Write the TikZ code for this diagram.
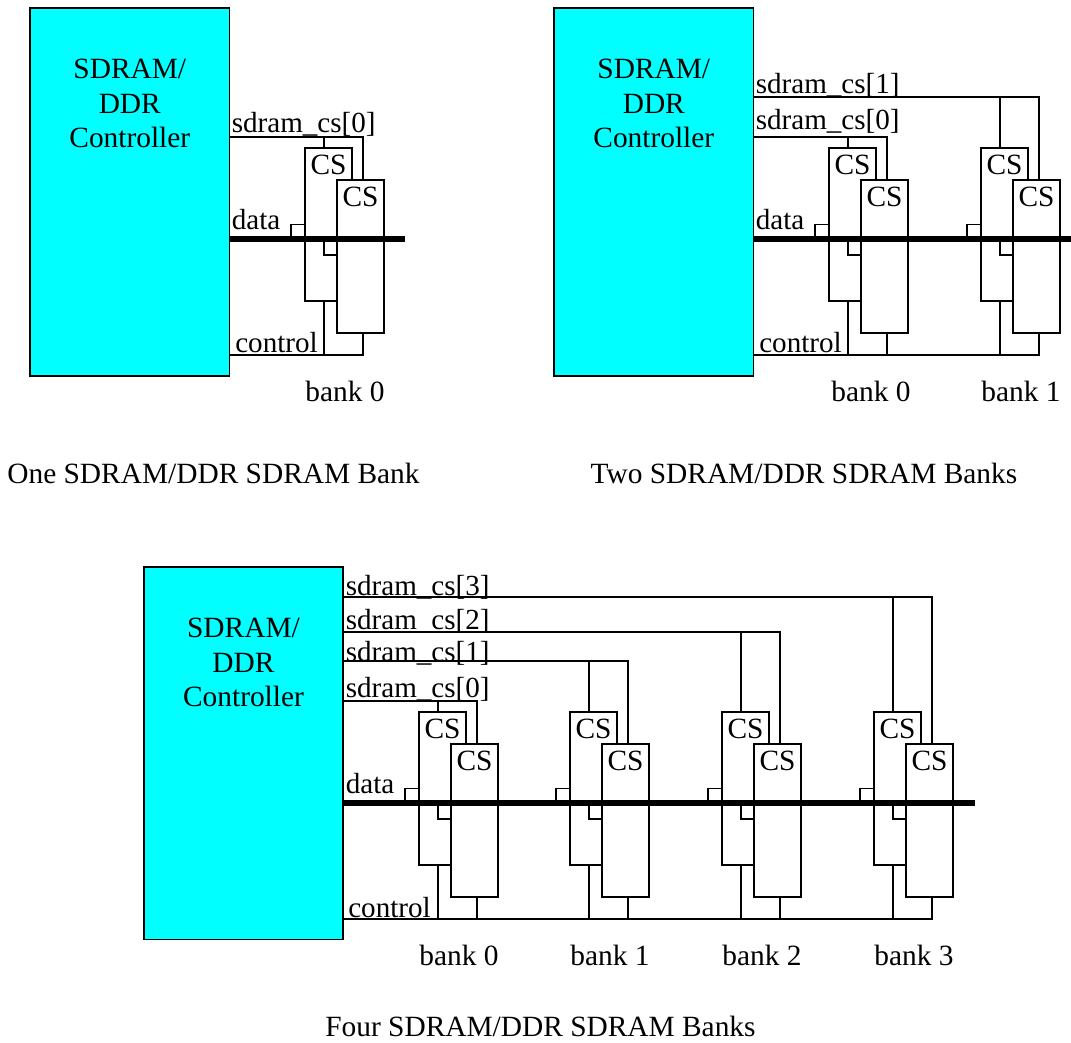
\documentclass[tikz,border=0pt]{standalone}
\usepackage{fontspec}
\usepackage{xcolor}
\setmainfont{Liberation Serif}
\usetikzlibrary{calc}
\definecolor{ctrlCyan}{RGB}{0,255,255}
\tikzset{
    ctrlbox/.style={
        rectangle,
        draw=black,
        line width=1.15pt,
        fill=ctrlCyan,
        minimum width=4.975cm,
        minimum height=9.2cm,
        inner sep=0pt
    },
    ctrltext/.style={
        align=center,
        inner sep=0pt,
        font=\fontsize{20.9}{24.5}\selectfont
    },
    chipbox/.style={
        rectangle,
        draw=black,
        line width=1.15pt,
        fill=white,
        minimum width=1.175cm,
        minimum height=3.825cm
    },
    cstext/.style={inner sep=0pt, font=\fontsize{20.9}{24.5}\selectfont},
    siglabel/.style={anchor=base west, inner sep=0pt, font=\fontsize{20.7}{24.5}\selectfont},
    captext/.style={anchor=base, inner sep=0pt, font=\fontsize{20.9}{24.5}\selectfont},
    wire/.style={draw=black, line width=1.15pt},
    busline/.style={draw=black, line width=4.5pt}
}
% one bank: name, centre of rear chip, then cs, data and control coordinates
\newcommand{\sdrambank}[5]{
    \node[chipbox] (#1rear) at #2 {};
    \node[cstext] (#1rearcs) at ($(#1rear.north)+(0,18)$) {CS};
    \node[chipbox] (#1front) at ($(#1rear)+(32,32)$) {};
    \node[cstext] (#1frontcs) at ($(#1front.north)+(0,18)$) {CS};
    \coordinate (#1reartop) at ($(#1rear.north)+(-4.5,0)$);
    \coordinate (#1rearbot) at ($(#1rear.south)+(-4.5,0)$);
    \coordinate (#1fronttop) at ($(#1front.north)+(2.5,0)$);
    \coordinate (#1frontbot) at ($(#1front.south)+(2.5,0)$);
    \coordinate (#1fronttab) at ($(#1front.west)+(0,-1.5)$);
    \draw[wire] (#1reartop) -- (#1reartop |- #3);
    \draw[wire] (#3) -| (#1fronttop);
    \draw[wire] (#1rearbot) -- (#1rearbot |- #5);
    \draw[wire] (#5) -| (#1frontbot);
    \draw[wire] (#1rear.west) -| ($(#1rear.west |- #4)+(-13,0)$);
    \draw[wire] (#1fronttab) -| (#1rearbot |- #4);
}
\begin{document}
\begin{tikzpicture}[x=0.025cm,y=-0.025cm]
    \useasboundingbox (0,0) rectangle (1071,1043);

    % one bank
    \node[ctrlbox] (ctrlA) at (129.8,192) {};
    \node[ctrltext] (ctrlAtext) at ($(ctrlA.north)+(0,96.5)$) {SDRAM/\\DDR\\Controller};
    \coordinate (csA0) at (ctrlA.east |- 0,137);
    \coordinate (dataA) at (ctrlA.east |- 0,239);
    \coordinate (ctlA) at (ctrlA.east |- 0,355);
    \coordinate (busendA) at (405,239);
    \sdrambank{bankAzero}{(328.5,224.5)}{csA0}{dataA}{ctlA}
    \draw[busline] (dataA) -- (busendA);
    \node[siglabel] (csAzerotext) at (231.5,133) {sdram\_cs[0]};
    \node[siglabel] (dataAtext) at (231.5,230) {data};
    \node[siglabel] (ctlAtext) at (235,353) {control};
    \node[captext] (bankAzerotext) at (345,401) {bank 0};
    \node[captext] (capA) at (213.5,483) {One SDRAM/DDR SDRAM Bank};

    % two banks
    \node[ctrlbox] (ctrlB) at (653.8,192) {};
    \node[ctrltext] (ctrlBtext) at ($(ctrlB.north)+(0,96.5)$) {SDRAM/\\DDR\\Controller};
    \coordinate (csB1) at (ctrlB.east |- 0,97);
    \coordinate (csB0) at (ctrlB.east |- 0,137);
    \coordinate (dataB) at (ctrlB.east |- 0,239);
    \coordinate (ctlB) at (ctrlB.east |- 0,355);
    \coordinate (busendB) at (1071,239);
    \sdrambank{bankBzero}{(852.5,224.5)}{csB0}{dataB}{ctlB}
    \sdrambank{bankBone}{(1004.5,224.5)}{csB1}{dataB}{ctlB}
    \draw[busline] (dataB) -- (busendB);
    \node[siglabel] (csBonetext) at (755.5,94) {sdram\_cs[1]};
    \node[siglabel] (csBzerotext) at (755.5,130) {sdram\_cs[0]};
    \node[siglabel] (dataBtext) at (755.5,230) {data};
    \node[siglabel] (ctlBtext) at (759,353) {control};
    \node[captext] (bankBzerotext) at (871,401) {bank 0};
    \node[captext] (bankBonetext) at (1021,401) {bank 1};
    \node[captext] (capB) at (804,483) {Two SDRAM/DDR SDRAM Banks};

    % four banks
    \node[ctrlbox, minimum height=9.3cm] (ctrlC) at (243.5,753.3) {};
    \node[ctrltext] (ctrlCtext) at ($(ctrlC.north)+(0,96.2)$) {SDRAM/\\DDR\\Controller};
    \coordinate (csC3) at (ctrlC.east |- 0,597);
    \coordinate (csC2) at (ctrlC.east |- 0,632);
    \coordinate (csC1) at (ctrlC.east |- 0,661);
    \coordinate (csC0) at (ctrlC.east |- 0,701);
    \coordinate (dataC) at (ctrlC.east |- 0,803);
    \coordinate (ctlC) at (ctrlC.east |- 0,919);
    \coordinate (busendC) at (975,803);
    \sdrambank{bankCzero}{(442.5,788.5)}{csC0}{dataC}{ctlC}
    \sdrambank{bankCone}{(593.5,788.5)}{csC1}{dataC}{ctlC}
    \sdrambank{bankCtwo}{(745.5,788.5)}{csC2}{dataC}{ctlC}
    \sdrambank{bankCthree}{(897.5,788.5)}{csC3}{dataC}{ctlC}
    \draw[busline] (dataC) -- (busendC);
    \node[siglabel] (csCthreetext) at (345.5,595) {sdram\_cs[3]};
    \node[siglabel] (csCtwotext) at (345.5,629) {sdram\_cs[2]};
    \node[siglabel] (csConetext) at (345.5,661) {sdram\_cs[1]};
    \node[siglabel] (csCzerotext) at (345.5,697) {sdram\_cs[0]};
    \node[siglabel] (dataCtext) at (345.5,793) {data};
    \node[siglabel] (ctlCtext) at (348,917) {control};
    \node[captext] (bankCzerotext) at (459,965) {bank 0};
    \node[captext] (bankConetext) at (610,965) {bank 1};
    \node[captext] (bankCtwotext) at (762,965) {bank 2};
    \node[captext] (bankCthreetext) at (914,965) {bank 3};
    \node[captext] (capC) at (540.5,1036.5) {Four SDRAM/DDR SDRAM Banks};
\end{tikzpicture}
\end{document}
